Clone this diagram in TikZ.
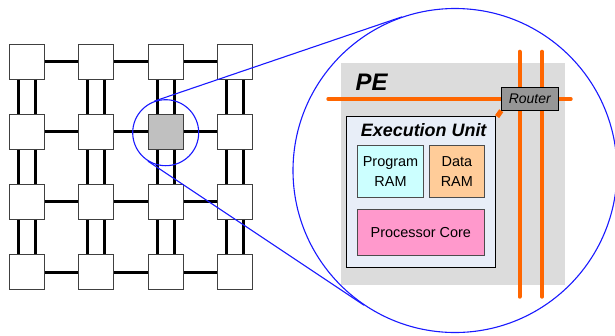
\documentclass[tikz,border=0pt]{standalone}
\usepackage{fontspec}
\setmainfont{Liberation Sans}
\definecolor{pegray}{RGB}{220,220,220}
\definecolor{eufill}{RGB}{232,238,248}
\definecolor{progfill}{RGB}{204,255,255}
\definecolor{datafill}{RGB}{255,204,153}
\definecolor{corefill}{RGB}{255,153,204}
\definecolor{routerfill}{RGB}{150,150,150}
\definecolor{noc}{RGB}{255,102,0}
\definecolor{zoomblue}{RGB}{25,25,255}
\definecolor{selfill}{RGB}{192,192,192}
\pgfdeclarelayer{back}
\pgfdeclarelayer{mid}
\pgfsetlayers{back,mid,main}
\tikzset{
  tile/.style={draw=black!75, line width=1bp, fill=white, minimum size=35bp, inner sep=0pt},
  link/.style={line width=3bp, black},
  nocline/.style={line width=4bp, noc, line cap=round},
  zoomline/.style={zoomblue, line width=1.1bp},
  lensc/.style={circle, draw=zoomblue, line width=1.1bp, inner sep=0pt},
  unitbox/.style={draw=black!70, line width=0.8bp, inner sep=0pt, align=center,
    font=\fontsize{14.5}{20}\selectfont},
}
\begin{document}
\begin{tikzpicture}[x=1bp,y=-1bp]
\useasboundingbox (0,0) rectangle (615,335);
% mesh of tiles
\foreach \i in {1,...,4}{
  \foreach \j in {1,...,4}{
    \ifnum\i\j=32 \def\tf{selfill}\else\def\tf{white}\fi
    \node[tile, fill=\tf] (g-\i-\j) at ({26.8+69.5*(\i-1)},{61.7+70.1*(\j-1)}) {};
  }
}
\foreach \i [evaluate=\i as \n using int(\i+1)] in {1,2,3}{
  \foreach \j in {1,...,4}{
    \draw[link] (g-\i-\j.east) -- (g-\n-\j.west);
  }
}
\foreach \i in {1,...,4}{
  \foreach \j [evaluate=\j as \n using int(\j+1)] in {1,2,3}{
    \draw[link] ([xshift=-8.6bp]g-\i-\j.south) -- ([xshift=-8.6bp]g-\i-\n.north);
    \draw[link] ([xshift=8.6bp]g-\i-\j.south) -- ([xshift=8.6bp]g-\i-\n.north);
  }
}
% magnifier
\node[lensc, minimum size=66bp] (focus) at (165.7,132.7) {};
\node[lensc, minimum size=324bp] (lens) at (455,170.5) {};
\draw[zoomline] (focus.110) -- (lens.109);
\draw[zoomline] (focus.238) -- (lens.236);
% PE
\begin{pgfonlayer}{back}
\node[fill=pegray, minimum width=224.3bp, minimum height=222.3bp, inner sep=0pt] (pe) at (452.85,173.85) {};
\end{pgfonlayer}
\node[font=\bfseries\itshape\fontsize{24}{28}\selectfont, inner sep=0pt] (pelabel) at (371.5,82.5) {PE};
\node[draw=black, line width=0.8bp, fill=routerfill, minimum width=57.3bp, minimum height=23bp,
  inner sep=0pt, font=\itshape\fontsize{14}{16}\selectfont] (router) at (529.8,98.8) {Router};
\node[draw=black, line width=0.8bp, fill=eufill, minimum width=149.7bp, minimum height=151.3bp,
  inner sep=0pt] (eu) at (420.85,191.65) {};
\node[font=\bfseries\itshape\fontsize{18}{20}\selectfont, inner sep=0pt] (eulabel) at (423.7,130) {Execution Unit};
\node[unitbox, fill=progfill, minimum width=65.6bp, minimum height=52bp] (prog) at (390.5,171.3) {Program\\RAM};
\node[unitbox, fill=datafill, minimum width=54.3bp, minimum height=52bp] (data) at (456.85,171.3) {Data\\RAM};
\node[unitbox, fill=corefill, minimum width=126.3bp, minimum height=46.4bp] (core) at (420.85,232.5) {Processor Core};
% network lines
\coordinate (hl) at (328.3,99);
\coordinate (hr) at (570.7,99);
\coordinate (vt1) at (519.5,51.7);
\coordinate (vt2) at (542,51.7);
\coordinate (vb1) at (519.5,296.7);
\coordinate (vb2) at (542,296.7);
\begin{pgfonlayer}{mid}
\draw[nocline] (hl) -- (hl -| router.west);
\draw[nocline] (hr -| router.east) -- (hr);
\draw[nocline] (vt1) -- (vt1 |- router.north);
\draw[nocline] (vt1 |- router.south) -- (vb1);
\draw[nocline] (vt2) -- (vt2 |- router.north);
\draw[nocline] (vt2 |- router.south) -- (vb2);
\end{pgfonlayer}
\draw[noc, line width=5bp] ([shift={(1bp,-1bp)}]eu.north east) -- ([shift={(0.5bp,0bp)}]router.south west);
\end{tikzpicture}
\end{document}
